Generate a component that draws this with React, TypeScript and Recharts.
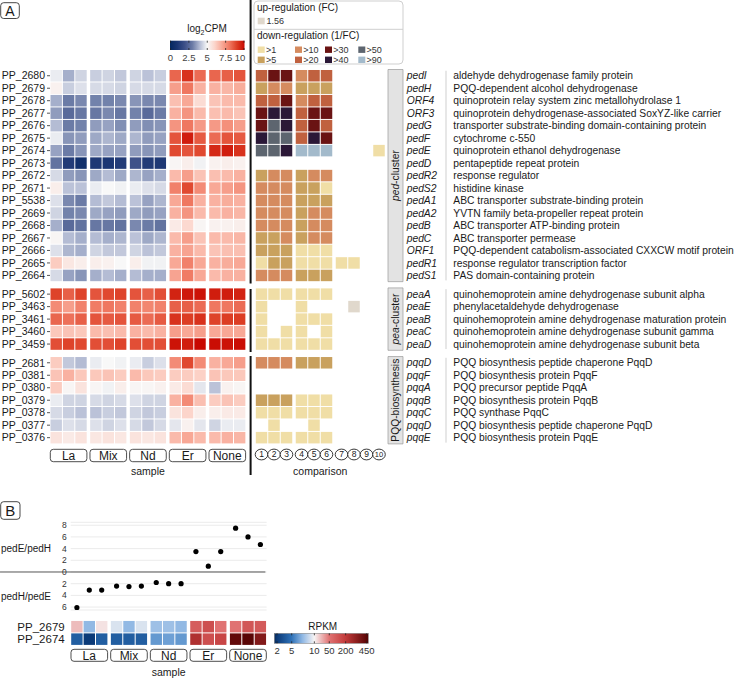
import React from 'react';
import {
  ScatterChart,
  Scatter,
  XAxis,
  YAxis,
  CartesianGrid,
  ReferenceLine,
  ReferenceArea,
} from 'recharts';

const FONT = '"Liberation Sans", Arial, Helvetica, sans-serif';
const INK = '#1a1a1a';

// ---- data ----
const samples = ['La', 'Mix', 'Nd', 'Er', 'None'];
const comparisons = ['1', '2', '3', '4', '5', '6', '7', '8', '9', '10'];

const pedIds = ['PP_2680', 'PP_2679', 'PP_2678', 'PP_2677', 'PP_2676', 'PP_2675', 'PP_2674', 'PP_2673', 'PP_2672', 'PP_2671', 'PP_5538', 'PP_2669', 'PP_2668', 'PP_2667', 'PP_2666', 'PP_2665', 'PP_2664'];
const pedGenes = ['pedI', 'pedH', 'ORF4', 'ORF3', 'pedG', 'pedF', 'pedE', 'pedD', 'pedR2', 'pedS2', 'pedA1', 'pedA2', 'pedB', 'pedC', 'ORF1', 'pedR1', 'pedS1'];
const pedProducts = [
  'aldehyde dehydrogenase family protein',
  'PQQ-dependent alcohol dehydrogenase',
  'quinoprotein relay system zinc metallohydrolase 1',
  'quinoprotein dehydrogenase-associated SoxYZ-like carrier',
  'transporter substrate-binding domain-containing protein',
  'cytochrome c-550',
  'quinoprotein ethanol dehydrogenase',
  'pentapeptide repeat protein',
  'response regulator',
  'histidine kinase',
  'ABC transporter substrate-binding protein',
  'YVTN family beta-propeller repeat protein',
  'ABC transporter ATP-binding protein',
  'ABC transporter permease',
  'PQQ-dependent catabolism-associated CXXCW motif protein',
  'response regulator transcription factor',
  'PAS domain-containing protein',
];
// log2CPM, 3 replicates per sample (La, Mix, Nd, Er, None)
const pedExpr = [
  [4.8, 3.8, 4.4, 4.3, 4.4, 4.2, 4.4, 4.1, 4.3, 8.3, 9.2, 8.2, 8.3, 8.4, 8.6],
  [5.2, 4.3, 4.6, 4.5, 4.5, 4.4, 4.5, 4.5, 4.5, 7.2, 8.0, 6.8, 6.8, 6.7, 6.9],
  [3.8, 3.0, 3.2, 3.1, 3.1, 3.2, 3.4, 3.2, 3.2, 6.5, 7.0, 5.8, 6.4, 6.6, 6.6],
  [3.5, 2.6, 2.9, 2.9, 3.2, 2.9, 3.1, 2.6, 3.0, 6.8, 7.4, 6.6, 6.5, 6.6, 6.4],
  [4.0, 3.0, 3.1, 3.5, 3.6, 3.3, 3.5, 3.3, 3.4, 7.4, 8.0, 7.3, 7.3, 7.5, 7.2],
  [4.8, 3.4, 3.5, 3.7, 3.9, 3.7, 3.9, 3.5, 3.6, 8.6, 9.6, 8.5, 8.2, 8.6, 8.5],
  [3.6, 3.0, 3.4, 3.7, 3.6, 3.6, 3.5, 3.4, 3.5, 8.8, 8.6, 8.8, 9.4, 9.6, 9.2],
  [2.8, 1.2, 0.6, 1.1, 1.0, 1.2, 2.0, 1.2, 1.1, 5.1, 5.3, 4.9, 5.2, 5.3, 5.2],
  [4.5, 3.5, 3.4, 3.7, 4.0, 3.7, 3.9, 3.6, 3.8, 6.6, 7.2, 6.4, 6.5, 6.6, 6.8],
  [5.3, 4.1, 4.1, 4.8, 5.0, 4.9, 4.8, 4.6, 4.5, 7.8, 8.8, 7.6, 7.0, 7.2, 7.4],
  [4.6, 3.2, 3.0, 4.0, 4.2, 4.0, 4.1, 3.6, 3.9, 7.0, 8.0, 6.8, 6.8, 6.9, 6.8],
  [4.4, 3.1, 3.2, 3.7, 3.6, 3.5, 3.7, 3.5, 3.6, 6.8, 7.4, 6.6, 6.6, 6.8, 6.7],
  [3.8, 2.6, 2.8, 2.9, 2.9, 2.8, 3.2, 3.0, 2.8, 5.4, 5.9, 5.1, 5.2, 5.2, 5.3],
  [5.1, 4.0, 3.8, 4.0, 3.8, 3.9, 4.1, 3.7, 3.9, 6.6, 7.2, 6.4, 6.6, 6.6, 6.7],
  [4.6, 3.9, 3.8, 4.4, 4.2, 4.2, 4.4, 4.1, 4.2, 6.8, 7.1, 6.6, 6.4, 6.5, 6.5],
  [6.2, 5.5, 5.3, 5.3, 5.2, 5.0, 5.3, 4.9, 4.9, 7.0, 7.8, 7.0, 6.8, 6.9, 7.0],
  [4.5, 3.6, 3.4, 3.8, 4.0, 3.8, 4.0, 3.8, 3.8, 7.1, 7.9, 7.0, 6.6, 6.8, 6.8],
];
// fold-change class per comparison: 0 = none, >n = down-regulation, -1 = up-regulation (1.56)
const pedFC = [
  [20, 30, 30, 10, 20, 20, 0, 0, 0, 0],
  [5, 10, 10, 5, 5, 5, 0, 0, 0, 0],
  [20, 20, 30, 10, 20, 20, 0, 0, 0, 0],
  [30, 40, 40, 20, 30, 30, 0, 0, 0, 0],
  [30, 50, 40, 20, 30, 20, 0, 0, 0, 0],
  [40, 50, 50, 20, 40, 30, 0, 0, 0, 0],
  [50, 50, 40, 90, 90, 90, 0, 0, 0, 1],
  [0, 0, 0, 0, 0, 0, 0, 0, 0, 0],
  [5, 10, 10, 5, 10, 10, 0, 0, 0, 0],
  [10, 10, 10, 5, 5, 1, 0, 0, 0, 0],
  [10, 10, 10, 5, 5, 5, 0, 0, 0, 0],
  [10, 10, 10, 5, 10, 10, 0, 0, 0, 0],
  [10, 10, 10, 5, 10, 10, 0, 0, 0, 0],
  [5, 5, 10, 5, 10, 10, 0, 0, 0, 0],
  [5, 5, 5, 1, 1, 1, 0, 0, 0, 0],
  [1, 5, 5, 1, 1, 1, 1, 1, 0, 0],
  [10, 10, 10, 5, 5, 5, 0, 0, 0, 0],
];

const peaIds = ['PP_5602', 'PP_3463', 'PP_3461', 'PP_3460', 'PP_3459'];
const peaGenes = ['peaA', 'peaE', 'peaB', 'peaC', 'peaD'];
const peaProducts = [
  'quinohemoprotein amine dehydrogenase subunit alpha',
  'phenylacetaldehyde dehydrogenase',
  'quinohemoprotein amine dehydrogenase maturation protein',
  'quinohemoprotein amine dehydrogenase subunit gamma',
  'quinohemoprotein amine dehydrogenase subunit beta',
];
const peaExpr = [
  [8.9, 8.4, 8.9, 8.6, 8.8, 8.9, 8.6, 8.4, 8.7, 9.5, 9.7, 9.8, 9.6, 9.6, 9.5],
  [7.6, 7.2, 7.8, 7.9, 8.0, 7.8, 7.8, 7.7, 7.8, 8.4, 8.4, 8.2, 8.0, 8.0, 8.2],
  [8.3, 8.1, 8.4, 8.6, 8.5, 8.6, 8.5, 8.2, 8.5, 9.2, 9.0, 9.2, 8.9, 9.0, 9.0],
  [6.3, 6.4, 6.3, 6.6, 6.5, 6.6, 6.8, 6.6, 6.8, 7.2, 7.0, 7.2, 7.0, 7.0, 7.0],
  [8.7, 8.9, 8.8, 8.7, 8.7, 8.9, 8.7, 8.7, 8.7, 9.8, 9.6, 10.0, 9.9, 9.8, 9.9],
];
const peaFC = [
  [1, 1, 1, 1, 1, 1, 0, 0, 0, 0],
  [1, 0, 0, 1, 0, 0, 0, -1, 0, 0],
  [1, 0, 0, 1, 1, 1, 0, 0, 0, 0],
  [1, 0, 1, 1, 0, 1, 0, 0, 0, 0],
  [1, 1, 1, 1, 1, 1, 0, 0, 0, 0],
];

const pqqIds = ['PP_2681', 'PP_0381', 'PP_0380', 'PP_0379', 'PP_0378', 'PP_0377', 'PP_0376'];
const pqqGenes = ['pqqD', 'pqqF', 'pqqA', 'pqqB', 'pqqC', 'pqqD', 'pqqE'];
const pqqProducts = [
  'PQQ biosynthesis peptide chaperone PqqD',
  'PQQ biosynthesis protein PqqF',
  'PQQ precursor peptide PqqA',
  'PQQ biosynthesis protein PqqB',
  'PQQ synthase PqqC',
  'PQQ biosynthesis peptide chaperone PqqD',
  'PQQ biosynthesis protein PqqE',
];
const pqqExpr = [
  [6.2, 4.2, 4.0, 4.8, 5.0, 4.9, 4.8, 4.3, 4.6, 7.6, 8.8, 7.6, 6.8, 7.0, 7.2],
  [6.4, 6.8, 6.3, 6.3, 6.4, 6.2, 6.6, 6.3, 6.2, 6.2, 6.2, 6.1, 6.4, 6.3, 6.3],
  [6.2, 5.1, 5.6, 5.1, 4.9, 5.3, 5.1, 5.1, 5.2, 5.4, 5.8, 4.7, 4.1, 5.2, 5.1],
  [4.8, 4.4, 4.4, 4.5, 4.4, 4.5, 4.6, 4.4, 4.4, 6.8, 7.6, 6.5, 6.2, 6.4, 6.2],
  [4.5, 4.3, 4.1, 4.1, 4.3, 4.2, 4.4, 4.2, 4.3, 5.6, 6.0, 5.3, 5.3, 5.4, 5.4],
  [4.3, 4.6, 4.5, 4.6, 4.4, 4.6, 4.5, 4.2, 4.5, 4.7, 5.2, 4.7, 4.4, 4.8, 4.8],
  [5.6, 5.4, 5.6, 5.5, 5.6, 5.5, 5.6, 5.5, 5.6, 6.6, 7.0, 6.6, 6.6, 6.8, 6.7],
];
const pqqFC = [
  [10, 10, 10, 5, 5, 5, 0, 0, 0, 0],
  [0, 0, 0, 0, 0, 0, 0, 0, 0, 0],
  [0, 0, 0, 0, 0, 0, 0, 0, 0, 0],
  [5, 5, 5, 1, 1, 1, 0, 0, 0, 0],
  [1, 1, 1, 1, 1, 1, 0, 0, 0, 0],
  [0, 1, 0, 0, 1, 0, 0, 0, 0, 0],
  [1, 1, 1, 1, 1, 1, 0, 0, 0, 0],
];

// panel B
const ratioValues = [-6.1, -3.1, -3.1, -2.4, -2.5, -2.4, -1.8, -2.0, -2.0, 3.5, 1.0, 3.5, 7.5, 6.0, 4.7];
const rpkmIds = ['PP_2679', 'PP_2674'];
const rpkm2679 = [20, 7, 12.5, 9, 7, 9, 7.3, 7.3, 7, 85, 120, 50, 50, 100, 90];
const rpkm2674 = [3.6, 2.0, 3.6, 3.6, 3.6, 3.6, 6.0, 6.2, 6.0, 230, 120, 150, 420, 450, 330];

const cpmTicks = [0, 2.5, 5, 7.5, 10];
const ratioTicks = [-6, -4, -2, 0, 2, 4, 6, 8];
const rpkmTicks = [2, 5, 10, 50, 200, 450];
const fcLevels = [1, 5, 10, 20, 30, 40, 50, 90];

// ---- colours ----
const fcColors = ['#f0dea6', '#c9a15e', '#d58b5f', '#c0613f', '#6a1313', '#2b1837', '#5d656f', '#a3bacb'];
const upColor = '#e0d8cc';
const cpmStops: [number, string][] = [
  [0, '#04275e'], [1, '#1b3673'], [2, '#3e5189'], [3, '#6b7ba6'], [4, '#b4bcd4'], [5, '#f8f8f8'],
  [6, '#fcd5cb'], [7, '#f8a896'], [8, '#ef7760'], [9, '#dc3d24'], [10, '#c80800'],
];
const rpkmTickPos = [0.029, 0.185, 0.426, 0.585, 0.759, 0.983];
const rpkmStops: [number, string][] = [
  [0, '#062a5c'], [0.029, '#0b3a78'], [0.185, '#2f72b8'], [0.3, '#90b8e4'], [0.426, '#f7f4f4'],
  [0.585, '#e07272'], [0.759, '#c23a3a'], [0.983, '#5a0606'], [1, '#560505'],
];

function mix(a: string, b: string, t: number) {
  const pa = [1, 3, 5].map((i) => parseInt(a.slice(i, i + 2), 16));
  const pb = [1, 3, 5].map((i) => parseInt(b.slice(i, i + 2), 16));
  return '#' + pa.map((c, k) => Math.round(c + (pb[k] - c) * t).toString(16).padStart(2, '0')).join('');
}
function ramp(stops: [number, string][], v: number) {
  if (v <= stops[0][0]) return stops[0][1];
  for (let i = 1; i < stops.length; i++) {
    if (v <= stops[i][0]) {
      const [a0, c0] = stops[i - 1];
      const [a1, c1] = stops[i];
      return mix(c0, c1, (v - a0) / (a1 - a0));
    }
  }
  return stops[stops.length - 1][1];
}
function rpkmFrac(v: number) {
  for (let i = 1; i < rpkmTicks.length; i++) {
    if (v <= rpkmTicks[i]) {
      const t = Math.log(v / rpkmTicks[i - 1]) / Math.log(rpkmTicks[i] / rpkmTicks[i - 1]);
      return rpkmTickPos[i - 1] + Math.max(0, t) * (rpkmTickPos[i] - rpkmTickPos[i - 1]);
    }
  }
  return rpkmTickPos[rpkmTickPos.length - 1];
}
const fcColor = (c: number) => (c < 0 ? upColor : fcColors[fcLevels.indexOf(c)]);

// ---- layout helpers (column / row positions in axis units) ----
const sampleX = (c: number) => Math.floor(c / 3) * 3.2 + (c % 3);
const compX = [0, 1, 2, 3.2, 4.2, 5.2, 6.4, 7.4, 8.4, 9.4];
const sampleCenters = samples.map((_, g) => g * 3.2 + 1);

const clusters = [
  { ids: pedIds, genes: pedGenes, products: pedProducts, expr: pedExpr, fc: pedFC, start: 0 },
  { ids: peaIds, genes: peaGenes, products: peaProducts, expr: peaExpr, fc: peaFC, start: 17.5 },
  { ids: pqqIds, genes: pqqGenes, products: pqqProducts, expr: pqqExpr, fc: pqqFC, start: 23 },
];
const rows = clusters.flatMap((cl) =>
  cl.ids.map((id, i) => ({
    id, gene: cl.genes[i], product: cl.products[i], expr: cl.expr[i], fc: cl.fc[i], y: cl.start + i,
  }))
);
const rowTicks = rows.map((r) => r.y);
const rowLabel = new Map(rows.map((r) => [r.y.toFixed(1), r.id]));

const exprCells = rows.flatMap((r) => r.expr.map((v, c) => ({ x: sampleX(c), y: r.y, fill: ramp(cpmStops, v) })));
const fcCells = rows.flatMap((r) =>
  r.fc.map((c, k) => ({ x: compX[k], y: r.y, c })).filter((d) => d.c !== 0).map((d) => ({ ...d, fill: fcColor(d.c) }))
);
const geneLabels = rows.map((r) => ({ x: 0, y: r.y, gene: r.gene, product: r.product }));
const ratioPoints = ratioValues.map((v, c) => ({ x: sampleX(c), y: v }));
const rpkmCells = [rpkm2679, rpkm2674].flatMap((vals, r) =>
  vals.map((v, c) => ({ x: sampleX(c), y: r, fill: ramp(rpkmStops, rpkmFrac(v)) }))
);

const Y_DOMAIN: [number, number] = [-0.5, 29.5];
const X_DOMAIN: [number, number] = [-0.5, 15.3];
const A_MARGIN_TOP = 69.5;
const A_AXIS_H = 36.1;

// ---- shapes / ticks ----
const cellShape = (w: number, h: number) => (p: any) => (
  <rect x={p.cx - w / 2} y={p.cy - h / 2} width={w} height={h} fill={p.payload.fill} />
);

const sampleTick = (gap: number, h: number) => (p: any) => {
  const g = Math.round((p.payload.value - 1) / 3.2);
  return (
    <g>
      <rect x={p.x - 18.3} y={p.y + gap} width={36.6} height={h} rx={3} fill="#fff" stroke="#3a3a3a" strokeWidth={0.9} />
      <text x={p.x} y={p.y + gap + h / 2} dy="0.36em" textAnchor="middle" fontSize={12} fill={INK}>
        {samples[g]}
      </text>
    </g>
  );
};

const CompTick = (p: any) => {
  const k = compX.indexOf(p.payload.value);
  return (
    <g>
      <ellipse cx={p.x} cy={p.y + 10.6} rx={6.3} ry={5.4} fill="#fff" stroke="#222" strokeWidth={0.9} />
      <text x={p.x} y={p.y + 10.6} dy="0.35em" textAnchor="middle" fontSize={k === 9 ? 7.5 : 8.5} fill={INK}>
        {comparisons[k]}
      </text>
    </g>
  );
};

const GeneLabel = (p: any) => (
  <g>
    <text x={p.cx + 18.7} y={p.cy} dy="0.35em" fontSize={10.3} fontStyle="italic" fill={INK}>
      {p.payload.gene}
    </text>
    <text x={p.cx + 65.3} y={p.cy} dy="0.35em" fontSize={10.3} fill={INK}>
      {p.payload.product}
    </text>
  </g>
);

const ClusterLabel = ({ viewBox, italic, rest }: any) => {
  const cx = viewBox.x + viewBox.width / 2;
  const cy = viewBox.y + viewBox.height / 2;
  return (
    <text x={cx} y={cy} dy="0.35em" textAnchor="middle" fontSize={10.3} fill={INK} transform={`rotate(-90 ${cx} ${cy})`}>
      {italic && <tspan fontStyle="italic">{italic}</tspan>}
      {rest}
    </text>
  );
};

const clusterBoxes = [
  { y1: -0.5, y2: 16.5, italic: 'ped', rest: '-cluster' },
  { y1: 17.0, y2: 22.0, italic: 'pea', rest: '-cluster' },
  { y1: 22.5, y2: 29.5, italic: '', rest: 'PQQ-biosynthesis' },
];

function ExprChart() {
  return (
    <ScatterChart width={250} height={480} margin={{ top: A_MARGIN_TOP, right: 4.1, bottom: 0, left: 0 }}>
      <XAxis
        type="number" dataKey="x" domain={X_DOMAIN} allowDataOverflow ticks={sampleCenters} interval={0}
        height={A_AXIS_H} axisLine={false} tickLine={false} tickSize={0} tickMargin={0}
        tick={sampleTick(5.4, 12.4)}
        label={{ value: 'sample', position: 'insideBottom', offset: 5.5, fontSize: 10.5, fill: INK }}
      />
      <YAxis
        type="number" dataKey="y" domain={Y_DOMAIN} allowDataOverflow reversed ticks={rowTicks} interval={0}
        width={50} axisLine={false} tickSize={3} tickMargin={2}
        tickLine={{ stroke: '#555' }}
        tick={{ fontSize: 10.5, fill: INK }}
        tickFormatter={(v: number) => rowLabel.get(v.toFixed(1)) ?? ''}
      />
      <Scatter data={exprCells} shape={cellShape(11.4, 11.5)} isAnimationActive={false} />
    </ScatterChart>
  );
}

function CompChart() {
  return (
    <ScatterChart width={140} height={480} margin={{ top: A_MARGIN_TOP, right: 4.75, bottom: 0, left: 5.25 }}>
      <XAxis
        type="number" dataKey="x" domain={[-0.5, 9.9]} allowDataOverflow ticks={compX} interval={0}
        height={A_AXIS_H} axisLine={false} tickLine={false} tickSize={0} tickMargin={0}
        tick={CompTick}
        label={{ value: 'comparison', position: 'insideBottom', offset: 5.5, fontSize: 10.5, fill: INK }}
      />
      <YAxis type="number" dataKey="y" domain={Y_DOMAIN} allowDataOverflow reversed hide />
      <Scatter data={fcCells} shape={cellShape(11.5, 11.5)} isAnimationActive={false} />
    </ScatterChart>
  );
}

function GeneChart() {
  return (
    <ScatterChart width={355} height={480} margin={{ top: A_MARGIN_TOP, right: 3, bottom: A_AXIS_H, left: 3 }}>
      <XAxis type="number" dataKey="x" domain={[0, 349]} allowDataOverflow hide />
      <YAxis type="number" dataKey="y" domain={Y_DOMAIN} allowDataOverflow reversed hide />
      {clusterBoxes.map((b) => (
        <ReferenceArea
          key={b.rest + b.italic}
          x1={0} x2={15} y1={b.y1} y2={b.y2}
          fill="#e3e3e3" fillOpacity={1} stroke="#9a9a9a" strokeWidth={0.7}
          label={<ClusterLabel italic={b.italic} rest={b.rest} />}
        />
      ))}
      {clusterBoxes.map((b) => (
        <ReferenceLine
          key={'sep' + b.rest + b.italic}
          segment={[{ x: 58, y: b.y1 + 0.1 }, { x: 58, y: b.y2 - 0.1 }]}
          stroke="#cfcfcf" strokeWidth={1}
        />
      ))}
      <Scatter data={geneLabels} shape={GeneLabel} isAnimationActive={false} />
    </ScatterChart>
  );
}

function RatioChart() {
  return (
    <ScatterChart width={270} height={122} margin={{ top: 32.3, right: 3.4, bottom: 2, left: 0 }}>
      <CartesianGrid vertical={false} stroke="#ebebeb" />
      <XAxis type="number" dataKey="x" domain={X_DOMAIN} allowDataOverflow hide />
      <YAxis
        type="number" dataKey="y" domain={[-6.5, 8.5]} allowDataOverflow ticks={ratioTicks} interval={0}
        width={70.7} axisLine={false} tickLine={false} tickSize={0} tickMargin={4}
        tick={{ fontSize: 8.5, fill: '#333' }}
        tickFormatter={(v: number) => String(Math.abs(v))}
      />
      <ReferenceLine
        segment={[{ x: -6.2, y: 0 }, { x: 15.2, y: 0 }]}
        stroke="#555" strokeWidth={1} ifOverflow="visible"
      />
      <Scatter data={ratioPoints} fill="#000" shape={(p: any) => <circle cx={p.cx} cy={p.cy} r={2.6} fill="#000" />} isAnimationActive={false} />
    </ScatterChart>
  );
}

function RpkmChart() {
  return (
    <ScatterChart width={270} height={78} margin={{ top: 20.4, right: 3.4, bottom: 0, left: 0 }}>
      <XAxis
        type="number" dataKey="x" domain={X_DOMAIN} allowDataOverflow ticks={sampleCenters} interval={0}
        height={32.6} axisLine={false} tickLine={false} tickSize={0} tickMargin={0}
        tick={sampleTick(3.9, 12)}
        label={{ value: 'sample', position: 'insideBottom', offset: 2.5, fontSize: 10.5, fill: INK }}
      />
      <YAxis
        type="number" dataKey="y" domain={[-0.5, 1.5]} allowDataOverflow reversed ticks={[0, 1]} interval={0}
        width={70.7} axisLine={false} tickLine={false} tickSize={0} tickMargin={6}
        tick={{ fontSize: 11.5, fill: INK }}
        tickFormatter={(v: number) => rpkmIds[v] ?? ''}
      />
      <Scatter data={rpkmCells} shape={cellShape(11.4, 11.5)} isAnimationActive={false} />
    </ScatterChart>
  );
}

function Overlay() {
  const cbX0 = 170, cbX1 = 244.5, cbY = 40.7, cbH = 9.3;
  const rbX0 = 274.3, rbX1 = 368.3, rbY = 633.3, rbH = 10;
  const swX = [257.7, 295, 325, 358.3];
  return (
    <svg width={740} height={678} style={{ position: 'absolute', left: 0, top: 0, pointerEvents: 'none' }} fontFamily={FONT}>
      <defs>
        <linearGradient id="cpmGrad" x1="0" x2="1" y1="0" y2="0">
          {cpmStops.map(([v, c]) => <stop key={v} offset={v / 10} stopColor={c} />)}
        </linearGradient>
        <linearGradient id="rpkmGrad" x1="0" x2="1" y1="0" y2="0">
          {rpkmStops.map(([v, c]) => <stop key={v} offset={v} stopColor={c} />)}
        </linearGradient>
      </defs>

      {/* panel letters */}
      <rect x={0.7} y={2.7} width={18.6} height={15.8} rx={3} fill="#fff" stroke="#333" strokeWidth={0.9} />
      <text x={10} y={10.6} dy="0.36em" textAnchor="middle" fontSize={14} fill={INK}>A</text>
      <rect x={0.7} y={501.7} width={19.3} height={17.6} rx={3} fill="#fff" stroke="#333" strokeWidth={0.9} />
      <text x={10.3} y={510.5} dy="0.36em" textAnchor="middle" fontSize={15} fill={INK}>B</text>

      {/* divider between heatmaps */}
      <line x1={250.6} x2={250.6} y1={0} y2={283.5} stroke="#111" strokeWidth={2} />
      <line x1={250.6} x2={250.6} y1={289} y2={352} stroke="#111" strokeWidth={2} />
      <line x1={250.6} x2={250.6} y1={356} y2={475} stroke="#111" strokeWidth={2} />

      {/* log2CPM colourbar */}
      <text x={207} y={32} textAnchor="middle" fontSize={10} fill={INK}>
        log<tspan fontSize={7} dy={2.5}>2</tspan><tspan dy={-2.5}>CPM</tspan>
      </text>
      <rect x={cbX0} y={cbY} width={cbX1 - cbX0} height={cbH} fill="url(#cpmGrad)" />
      {cpmTicks.map((t) => {
        const x = cbX0 + 0.5 + (t / 10) * (cbX1 - cbX0 - 1);
        return (
          <g key={t}>
            <line x1={x} x2={x} y1={cbY} y2={cbY + 2} stroke="#222" strokeWidth={0.8} />
            <line x1={x} x2={x} y1={cbY + cbH - 2} y2={cbY + cbH} stroke="#222" strokeWidth={0.8} />
            <text x={t === 10 ? x - 4 : x} y={57.5} dy="0.35em" textAnchor="middle" fontSize={9.5} fill="#444">{t}</text>
          </g>
        );
      })}

      {/* fold-change legend */}
      <rect x={254} y={1} width={149} height={63} rx={4} fill="#fff" stroke="#cfcfcf" />
      <line x1={254} x2={403} y1={29.3} y2={29.3} stroke="#cfcfcf" />
      <text x={257} y={7.8} dy="0.35em" fontSize={10} fill={INK}>up-regulation (FC)</text>
      <rect x={257.7} y={17.7} width={7} height={6.6} fill={upColor} />
      <text x={266.5} y={21} dy="0.35em" fontSize={9} fill="#333">1.56</text>
      <text x={257} y={35.3} dy="0.35em" fontSize={10} fill={INK}>down-regulation (1/FC)</text>
      {fcLevels.map((lv, i) => {
        const x = swX[Math.floor(i / 2)];
        const y = i % 2 === 0 ? 46.5 : 56.6;
        return (
          <g key={lv}>
            <rect x={x} y={y} width={7} height={6.4} fill={fcColors[i]} />
            <text x={x + 8.2} y={y + 3.2} dy="0.35em" fontSize={9} fill="#333">{'>' + lv}</text>
          </g>
        );
      })}

      {/* panel B side labels */}
      <text x={1} y={548.3} dy="0.35em" fontSize={10} fill={INK}>pedE/pedH</text>
      <text x={1} y={596} dy="0.35em" fontSize={10} fill={INK}>pedH/pedE</text>

      {/* RPKM colourbar */}
      <text x={322.7} y={626} dy="0.35em" textAnchor="middle" fontSize={10} fill={INK}>RPKM</text>
      <rect x={rbX0} y={rbY} width={rbX1 - rbX0} height={rbH} fill="url(#rpkmGrad)" stroke="#888" strokeWidth={0.6} />
      {rpkmTicks.map((t, i) => {
        const x = rbX0 + rpkmTickPos[i] * (rbX1 - rbX0);
        return (
          <g key={t}>
            <line x1={x} x2={x} y1={rbY} y2={rbY + 2} stroke="#222" strokeWidth={0.8} />
            <line x1={x} x2={x} y1={rbY + rbH - 2} y2={rbY + rbH} stroke="#222" strokeWidth={0.8} />
            <text x={x} y={651} dy="0.35em" textAnchor="middle" fontSize={9.5} fill="#333">{t}</text>
          </g>
        );
      })}
    </svg>
  );
}

export default function App() {
  return (
    <div style={{ position: 'absolute', left: 0, top: 0, width: 740, height: 678, background: '#fff', fontFamily: FONT, color: INK, overflow: 'hidden' }}>
      <div style={{ position: 'absolute', left: 0, top: 0 }}><ExprChart /></div>
      <div style={{ position: 'absolute', left: 250, top: 0 }}><CompChart /></div>
      <div style={{ position: 'absolute', left: 385, top: 0 }}><GeneChart /></div>
      <div style={{ position: 'absolute', left: 0, top: 490 }}><RatioChart /></div>
      <div style={{ position: 'absolute', left: 0, top: 600 }}><RpkmChart /></div>
      <Overlay />
    </div>
  );
}
